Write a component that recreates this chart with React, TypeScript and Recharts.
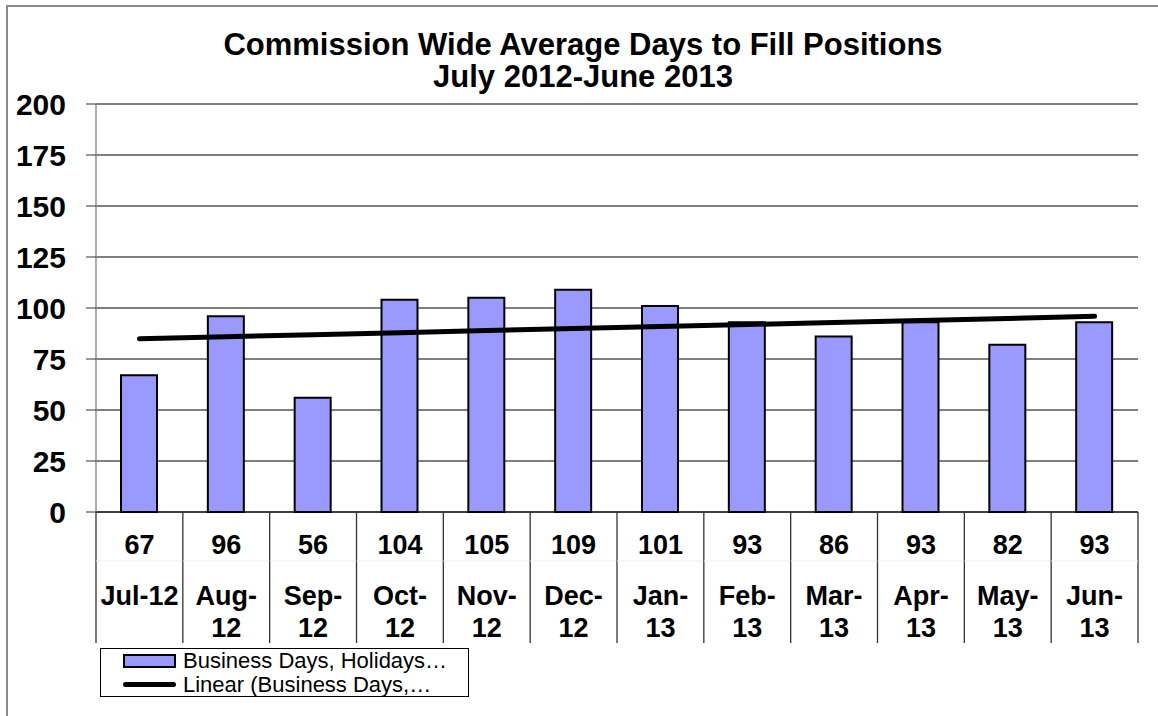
import React from "react";
import {
  ComposedChart,
  Bar,
  Line,
  XAxis,
  YAxis,
  CartesianGrid,
} from "recharts";

const categories = [
  "Jul-12", "Aug-12", "Sep-12", "Oct-12", "Nov-12", "Dec-12",
  "Jan-13", "Feb-13", "Mar-13", "Apr-13", "May-13", "Jun-13",
];
const businessDays = [67, 96, 56, 104, 105, 109, 101, 93, 86, 93, 82, 93];
const yTicks = [0, 25, 50, 75, 100, 125, 150, 175, 200];
const titleLines = ["Commission Wide Average Days to Fill Positions", "July 2012-June 2013"];
const legendLabels = ["Business Days, Holidays…", "Linear (Business Days,…"];

// Linear trendline (least squares) of the bar series, as Excel draws it
const n = businessDays.length;
const xMean = (n + 1) / 2;
const yMean = businessDays.reduce((a, b) => a + b, 0) / n;
let sxy = 0;
let sxx = 0;
businessDays.forEach((v, i) => {
  sxy += (i + 1 - xMean) * (v - yMean);
  sxx += (i + 1 - xMean) * (i + 1 - xMean);
});
const slope = sxy / sxx;
const intercept = yMean - slope * xMean;

const data = categories.map((c, i) => ({
  name: c,
  value: businessDays[i],
  trend: intercept + slope * (i + 1),
}));

const FONT = "'Liberation Sans', Arial, Helvetica, sans-serif";
const W = 1158;
const H = 716;
const PLOT_LEFT = 96;
const PLOT_RIGHT = 1138;
const PLOT_TOP = 104;
const PLOT_BOTTOM = 512;
const Y_AXIS_W = 80;
const X_AXIS_H = 150;
const HALF = (PLOT_RIGHT - PLOT_LEFT) / categories.length / 2;
const TABLE_BOTTOM = 643;
const TABLE_FONT = 27;

let measureCtx: CanvasRenderingContext2D | null = null;
function textWidth(t: string): number {
  if (!measureCtx) {
    const c = document.createElement("canvas");
    measureCtx = c.getContext("2d");
  }
  if (!measureCtx) return t.length * TABLE_FONT * 0.55;
  measureCtx.font = `bold ${TABLE_FONT}px ${FONT}`;
  return measureCtx.measureText(t).width;
}

function wrapLabel(label: string): string[] {
  if (textWidth(label) <= 80) return [label];
  const k = label.indexOf("-");
  if (k < 0) return [label];
  return [label.slice(0, k + 1), label.slice(k + 1)];
}

const TableTick = (props: any) => {
  const { x, y, payload, index } = props;
  const i = index ?? 0;
  const top = y;
  const lines = wrapLabel(String(payload.value));
  return (
    <g>
      <line x1={x - HALF} x2={x - HALF} y1={top} y2={TABLE_BOTTOM} stroke="#333" strokeWidth={1.3} />
      {i === categories.length - 1 && (
        <line x1={x + HALF} x2={x + HALF} y1={top} y2={TABLE_BOTTOM} stroke="#333" strokeWidth={1.3} />
      )}
      <line x1={x - HALF} x2={x + HALF} y1={561} y2={561} stroke="#eeeeee" strokeWidth={1} />
      <text
        x={x}
        y={544}
        dy="0.36em"
        textAnchor="middle"
        fontFamily={FONT}
        fontWeight="bold"
        fontSize={TABLE_FONT}
        fill="#000"
      >
        {businessDays[i]}
      </text>
      {lines.map((ln, k) => (
        <text
          key={k}
          x={x}
          y={595 + k * 32}
          dy="0.36em"
          textAnchor="middle"
          fontFamily={FONT}
          fontWeight="bold"
          fontSize={TABLE_FONT}
          fill="#000"
        >
          {ln}
        </text>
      ))}
    </g>
  );
};

export default function App() {
  return (
    <div
      style={{
        position: "absolute",
        left: 0,
        top: 0,
        width: W,
        height: H,
        background: "#fff",
        overflow: "hidden",
      }}
    >
      <div
        style={{
          position: "absolute",
          left: 6,
          top: 5,
          width: W,
          height: H,
          borderTop: "2px solid #8a8a8a",
          borderLeft: "2px solid #8a8a8a",
        }}
      />
      <div
        style={{
          position: "absolute",
          left: 0,
          width: 1166,
          top: 29,
          textAlign: "center",
          fontFamily: FONT,
          fontWeight: "bold",
          fontSize: 31,
          lineHeight: "32px",
          color: "#000",
        }}
      >
        <div>{titleLines[0]}</div>
        <div>{titleLines[1]}</div>
      </div>
      <div style={{ position: "absolute", left: 0, top: 0 }}>
        <ComposedChart
          width={W}
          height={H}
          data={data}
          margin={{
            top: PLOT_TOP,
            right: W - PLOT_RIGHT,
            left: PLOT_LEFT - Y_AXIS_W,
            bottom: H - PLOT_BOTTOM - X_AXIS_H,
          }}
        >
          <CartesianGrid vertical={false} stroke="#000" strokeWidth={1} />
          <XAxis
            dataKey="name"
            height={X_AXIS_H}
            axisLine={{ stroke: "#000", strokeWidth: 1 }}
            tickLine={false}
            tickSize={0}
            tickMargin={0}
            interval={0}
            tick={<TableTick />}
          />
          <YAxis
            width={Y_AXIS_W}
            domain={[0, 200]}
            ticks={yTicks}
            interval={0}
            axisLine={{ stroke: "#808080", strokeWidth: 1.3 }}
            tickLine={{ stroke: "#333" }}
            tickSize={10}
            tickMargin={20}
            tick={{ fontFamily: FONT, fontWeight: "bold", fontSize: 30, fill: "#000" }}
          />
          <Bar
            dataKey="value"
            fill="#9999FF"
            stroke="#000"
            strokeWidth={2}
            barSize={36}
            isAnimationActive={false}
          />
          <Line
            dataKey="trend"
            stroke="#000"
            strokeWidth={5}
            strokeLinecap="round"
            dot={false}
            activeDot={false}
            type="linear"
            isAnimationActive={false}
          />
        </ComposedChart>
      </div>
      <div
        style={{
          position: "absolute",
          left: 100,
          top: 648,
          width: 369,
          height: 49,
          border: "1px solid #000",
          fontFamily: FONT,
          fontSize: 22,
          color: "#000",
          boxSizing: "border-box",
        }}
      >
        <div style={{ position: "absolute", left: 22, top: 5, width: 53, height: 14, background: "#9999FF", border: "2px solid #000", boxSizing: "border-box" }} />
        <div style={{ position: "absolute", left: 82, top: 0, lineHeight: "24px", whiteSpace: "nowrap" }}>{legendLabels[0]}</div>
        <div style={{ position: "absolute", left: 22, top: 33, width: 53, height: 5, background: "#000", borderRadius: 2.5 }} />
        <div style={{ position: "absolute", left: 82, top: 24, lineHeight: "24px", whiteSpace: "nowrap" }}>{legendLabels[1]}</div>
      </div>
    </div>
  );
}
